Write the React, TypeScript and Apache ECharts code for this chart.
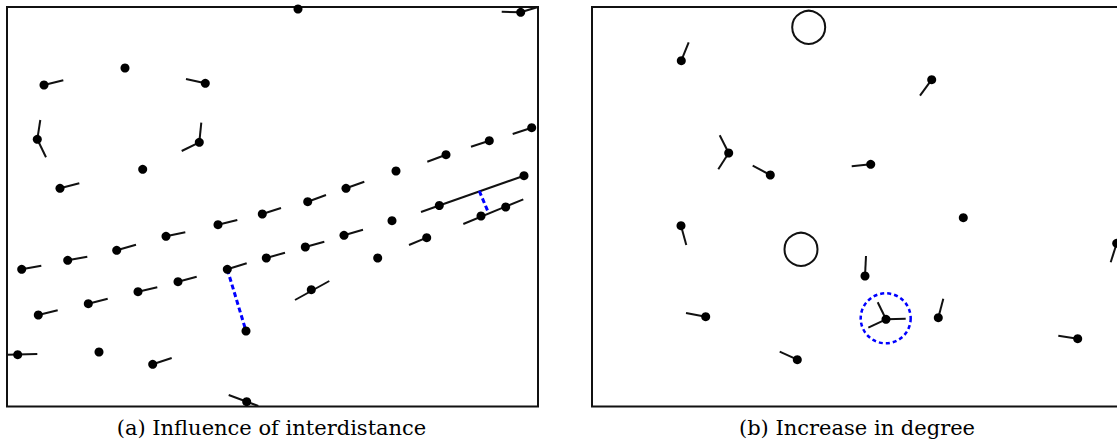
import React, { useEffect, useRef } from "react";
import * as echarts from "echarts";

// Panel (a): node positions (panel units, y grows downward)
const dotsA: number[][] = [
  [118, 61], [37, 78], [198.3, 76.3], [30.3, 132.3], [192.3, 135.3], [135.7, 162.3], [53, 181.3],
  [291, 2], [513.7, 5.3], [524.7, 120.7], [482.3, 133.7], [439, 147.7], [389, 164], [339, 181.3],
  [300.7, 194.7], [517, 168.7], [432.3, 198.5], [498.7, 200], [474, 209], [419.7, 230.7],
  [385, 213.7], [370.7, 251], [337, 228.3], [298.3, 240], [304.3, 282.7], [14.7, 262.3],
  [60.7, 253.3], [109.7, 243.3], [159, 229.3], [211, 217.7], [255.3, 207], [31.3, 308],
  [81.3, 296.7], [131, 284.7], [171, 274.7], [220.3, 262.3], [259.3, 251], [239, 324],
  [10.7, 347.7], [92, 345], [145.7, 357.3], [239.7, 394.7],
];

// Panel (a): edge segments
const edgesA: number[][][] = [
  [[37, 78], [56.3, 73.3]], [[198.3, 76.3], [179, 72]], [[30.3, 132.3], [33.3, 113]],
  [[30.3, 132.3], [39, 150.3]], [[192.3, 135.3], [194.3, 115.7]], [[192.3, 135.3], [174.7, 144]],
  [[53, 181.3], [72.3, 176.3]], [[513.7, 5.3], [494.7, 4.7]], [[513.7, 5.3], [531, 0]],
  [[524.7, 120.7], [505.7, 127]], [[482.3, 133.7], [464, 139.7]], [[439, 147.7], [420.3, 154.7]],
  [[339, 181.3], [357.3, 174.7]], [[300.7, 194.7], [319, 188]], [[517, 168.7], [432.3, 198.5]],
  [[432.3, 198.5], [414, 205]], [[456.3, 217], [516.3, 192.3]], [[419.7, 230.7], [402, 238]],
  [[337, 228.3], [356, 222.7]], [[298.3, 240], [317.3, 234.7]], [[288, 293], [322.3, 274]],
  [[14.7, 262.3], [34.3, 258.7]], [[60.7, 253.3], [80.3, 249.7]], [[109.7, 243.3], [129, 237.7]],
  [[159, 229.3], [178.3, 225.3]], [[211, 217.7], [230.3, 213]], [[255.3, 207], [274, 201]],
  [[31.3, 308], [50.7, 303.3]], [[81.3, 296.7], [100.7, 291.7]], [[131, 284.7], [150.3, 280.3]],
  [[171, 274.7], [189.7, 269.7]], [[220.3, 262.3], [239.7, 256.3]], [[259.3, 251], [278, 245.7]],
  [[0, 347.7], [30.3, 347]], [[145.7, 357.3], [164.7, 351]], [[221.7, 388], [251.3, 399]],
];

// Panel (a): highlighted interdistances (blue dashed)
const gapsA: number[][][] = [
  [[220.3, 262.3], [239, 324]],
  [[472.3, 184], [481.3, 205.3]],
];

// Panel (b): nodes
const dotsB: number[][] = [
  [89.3, 53.7], [136.7, 146], [178.3, 168], [278.7, 157.3], [339.7, 72.7], [89, 218.7],
  [113.7, 309.7], [205.3, 352.7], [371.3, 210.7], [273, 269], [294, 312.3], [346.3, 310.7],
  [485.7, 331.7], [524.7, 236.3],
];

// Panel (b): edges
const edgesB: number[][][] = [
  [[89.3, 53.7], [96.7, 35.3]], [[136.7, 146], [127.7, 128.3]], [[136.7, 146], [126.3, 162.3]],
  [[178.3, 168], [160.7, 158.7]], [[278.7, 157.3], [259.7, 159.3]], [[339.7, 72.7], [328, 88.7]],
  [[89, 218.7], [94.3, 238]], [[113.7, 309.7], [94, 306]], [[205.3, 352.7], [187.7, 344.7]],
  [[273, 269], [274, 249]], [[294, 312.3], [285.7, 295.3]], [[294, 312.3], [313.7, 311.7]],
  [[294, 312.3], [276.3, 320.7]], [[346.3, 310.7], [351.3, 291.7]], [[485.7, 331.7], [466.3, 328.7]],
  [[524.7, 236.3], [518.7, 255.3]],
];

// Panel (b): empty circles and highlighted node
const ringsB: number[][] = [[216.7, 20.3], [209, 242.3]];
const highlightB: number[][] = [[293.7, 311.3]];

const captions = ["(a) Influence of interdistance", "(b) Increase in degree"];

const X_MAX = 531;
const Y_MAX = 399.5;

export default function App() {
  const ref = useRef<HTMLDivElement>(null);
  useEffect(() => {
    if (!ref.current) return;
    const chart = echarts.init(ref.current, undefined, { renderer: "svg" });
    const gridStyle = { show: true, borderColor: "#111", borderWidth: 2, backgroundColor: "transparent" };
    const ax = (gi: number) => ({ type: "value", gridIndex: gi, min: 0, max: X_MAX, show: false });
    const ay = (gi: number) => ({ type: "value", gridIndex: gi, min: 0, max: Y_MAX, inverse: true, show: false });
    const edgeSeries = (edges: number[][][], gi: number) => ({
      type: "lines",
      coordinateSystem: "cartesian2d",
      xAxisIndex: gi,
      yAxisIndex: gi,
      clip: false,
      lineStyle: { color: "#111", width: 2, opacity: 1 },
      data: edges.map((c) => ({ coords: c })),
      z: 2,
    });
    const dotSeries = (dots: number[][], gi: number) => ({
      type: "scatter",
      xAxisIndex: gi,
      yAxisIndex: gi,
      symbol: "circle",
      symbolSize: 9,
      clip: false,
      itemStyle: { color: "#000", opacity: 1 },
      data: dots,
      z: 4,
    });
    const captionStyle = {
      font: "21px 'DejaVu Serif'",
      fill: "#000",
      textAlign: "center",
      textVerticalAlign: "middle",
    };
    chart.setOption({
      animation: false,
      grid: [
        { left: 7, top: 7, width: 531, height: 399.5, ...gridStyle },
        { left: 592, top: 7, width: 531, height: 399.5, ...gridStyle },
      ],
      xAxis: [ax(0), ax(1)],
      yAxis: [ay(0), ay(1)],
      series: [
        edgeSeries(edgesA, 0),
        {
          type: "lines",
          coordinateSystem: "cartesian2d",
          xAxisIndex: 0,
          yAxisIndex: 0,
          lineStyle: { color: "#0000ff", width: 3, type: [5, 3], opacity: 1 },
          data: gapsA.map((c) => ({ coords: c })),
          z: 3,
        },
        dotSeries(dotsA, 0),
        edgeSeries(edgesB, 1),
        dotSeries(dotsB, 1),
        {
          type: "scatter",
          xAxisIndex: 1,
          yAxisIndex: 1,
          symbol: "circle",
          symbolSize: 33,
          itemStyle: { color: "transparent", borderColor: "#111", borderWidth: 2, opacity: 1 },
          data: ringsB,
          z: 3,
        },
        {
          type: "scatter",
          xAxisIndex: 1,
          yAxisIndex: 1,
          symbol: "circle",
          symbolSize: 50,
          itemStyle: { color: "transparent", borderColor: "#0000ff", borderWidth: 2.5, borderType: [4, 3], opacity: 1 },
          data: highlightB,
          z: 3,
        },
      ],
      graphic: [
        { type: "text", x: 271.5, y: 428, style: { text: captions[0], ...captionStyle } },
        { type: "text", x: 857, y: 428, style: { text: captions[1], ...captionStyle } },
      ],
    });
    return () => chart.dispose();
  }, []);
  return (
    <div
      ref={ref}
      style={{ position: "fixed", left: 0, top: 0, width: 1130, height: 445, background: "#fff" }}
    />
  );
}
